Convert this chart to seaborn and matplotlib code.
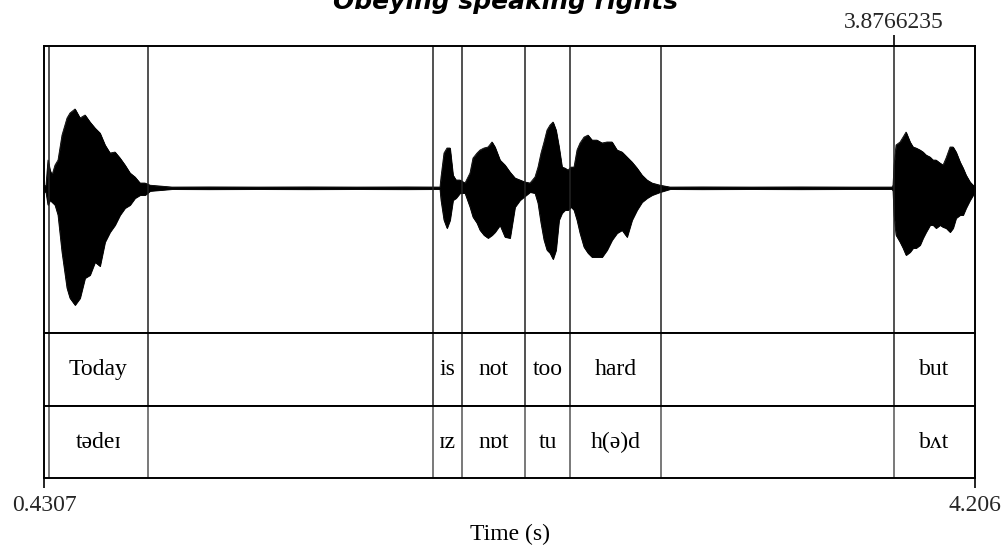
import matplotlib
matplotlib.use("Agg")
import matplotlib.pyplot as plt
import seaborn as sns
import pandas as pd

sns.set_theme(style="white")
plt.rcParams["font.family"] = ["Liberation Serif", "DejaVu Serif"]

# ---------------- data ----------------
t_start, t_end = 0.4307, 4.206
marked_time = 3.8766235
title_text = "Obeying speaking rights"

# waveform envelope (time in s, amplitude normalised)
wave_time = [0.4307, 0.4388, 0.4469, 0.4550, 0.4631, 0.4753, 0.4875, 0.5037, 0.5240,
             0.5361, 0.5564, 0.5767, 0.5970, 0.6172, 0.6375, 0.6578, 0.6781, 0.6983,
             0.7186, 0.7389, 0.7592, 0.7794, 0.7997, 0.8200, 0.8403, 0.8605,
             0.95, 1.10, 1.30, 1.50, 1.70, 1.90, 2.0365,
             2.0406, 2.0527, 2.0649, 2.0771, 2.0892, 2.1014, 2.1176, 2.1379, 2.1582,
             2.1703, 2.1866, 2.1987, 2.2149, 2.2312, 2.2474, 2.2595, 2.2798, 2.3001,
             2.3204, 2.3406, 2.3609, 2.3812, 2.4015, 2.4217, 2.4339, 2.4461, 2.4583,
             2.4704, 2.4826, 2.4948, 2.5069, 2.5191, 2.5313, 2.5434, 2.5556, 2.5678,
             2.5799, 2.5921, 2.6043, 2.6205, 2.6367, 2.6530, 2.6732, 2.6935, 2.7138,
             2.7341, 2.7543, 2.7746, 2.7949, 2.8152, 2.8354, 2.8557, 2.8760, 2.8963,
             2.9287, 2.9693, 3.10, 3.30, 3.50, 3.70, 3.8696,
             3.8736, 3.8777, 3.8858, 3.9020, 3.9142, 3.9263, 3.9426, 3.9548, 3.9669,
             3.9831, 3.9953, 4.0075, 4.0237, 4.0359, 4.0480, 4.0643, 4.0764, 4.0886,
             4.1048, 4.1170, 4.1292, 4.1454, 4.1576, 4.1697, 4.1859, 4.1981, 4.2060]
wave_upper = [0.014, 0.020, 0.195, 0.125, 0.090, 0.160, 0.195, 0.369, 0.488,
              0.523, 0.551, 0.488, 0.509, 0.460, 0.418, 0.383, 0.300, 0.244,
              0.251, 0.209, 0.160, 0.105, 0.077, 0.035, 0.035, 0.020,
              0.007, 0.008, 0.007, 0.008, 0.007, 0.008, 0.007,
              0.077, 0.244, 0.279, 0.279, 0.090, 0.056, 0.056, 0.035, 0.105,
              0.209, 0.244, 0.265, 0.279, 0.286, 0.321, 0.286, 0.195, 0.160,
              0.111, 0.070, 0.056, 0.042, 0.035, 0.077, 0.146, 0.244, 0.321,
              0.404, 0.439, 0.460, 0.404, 0.286, 0.146, 0.139, 0.125, 0.146,
              0.146, 0.265, 0.314, 0.355, 0.369, 0.334, 0.334, 0.314, 0.321,
              0.321, 0.265, 0.251, 0.216, 0.181, 0.139, 0.090, 0.056, 0.035,
              0.020, 0.007, 0.008, 0.007, 0.008, 0.007, 0.007,
              0.020, 0.160, 0.300, 0.321, 0.355, 0.390, 0.321, 0.286, 0.279,
              0.265, 0.251, 0.230, 0.216, 0.195, 0.195, 0.174, 0.160, 0.209,
              0.286, 0.286, 0.251, 0.181, 0.139, 0.090, 0.042, 0.020, 0.010]
wave_lower = [-0.020, -0.030, -0.118, -0.084, -0.098, -0.118, -0.188, -0.446, -0.697,
              -0.767, -0.815, -0.767, -0.627, -0.606, -0.516, -0.544, -0.376, -0.307,
              -0.258, -0.188, -0.139, -0.118, -0.070, -0.049, -0.049, -0.020,
              -0.007, -0.008, -0.007, -0.008, -0.007, -0.008, -0.007,
              -0.084, -0.223, -0.279, -0.223, -0.084, -0.070, -0.035, -0.035, -0.132,
              -0.202, -0.244, -0.293, -0.328, -0.348, -0.328, -0.307, -0.258, -0.341,
              -0.348, -0.132, -0.084, -0.056, -0.028, -0.035, -0.105, -0.244, -0.362,
              -0.432, -0.453, -0.495, -0.432, -0.223, -0.174, -0.153, -0.153, -0.132,
              -0.153, -0.223, -0.314, -0.411, -0.453, -0.481, -0.481, -0.481, -0.432,
              -0.362, -0.314, -0.293, -0.341, -0.223, -0.153, -0.098, -0.070, -0.049,
              -0.028, -0.007, -0.008, -0.007, -0.008, -0.007, -0.007,
              -0.020, -0.188, -0.328, -0.376, -0.418, -0.467, -0.446, -0.418, -0.418,
              -0.397, -0.348, -0.307, -0.258, -0.258, -0.279, -0.258, -0.272, -0.279,
              -0.307, -0.279, -0.209, -0.188, -0.188, -0.139, -0.084, -0.049, -0.020]

# TextGrid interval boundaries and labels
bounds = [0.451, 0.8524, 2.008, 2.1257, 2.3812, 2.5636, 2.9327, 3.8766235]
words = ["Today", "", "is", "not", "too", "hard", "", "but"]
phones = ["tədeɪ", "", "ɪz", "nɒt", "tu", "h(ə)d", "", "bʌt"]

# ---------------- figure ----------------
W, H = 1006, 548
fig = plt.figure(figsize=(W / 100, H / 100), dpi=100)
fig.patch.set_facecolor("white")


def rect(x0, y0, x1, y1):
    return [x0 / W, 1 - y1 / H, (x1 - x0) / W, (y1 - y0) / H]


ax_w = fig.add_axes(rect(44, 46, 975, 333))
ax_t1 = fig.add_axes(rect(44, 333, 975, 406))
ax_t2 = fig.add_axes(rect(44, 406, 975, 478))

FS = 17
for ax in (ax_w, ax_t1, ax_t2):
    ax.set_facecolor("white")
    ax.set_xlim(t_start, t_end)
    for s in ax.spines.values():
        s.set_color("black")
        s.set_linewidth(1.4)
    ax.set_yticks([])
    ax.set_xticks([])
    ax.grid(False)

# waveform
wave = pd.DataFrame({"time": wave_time, "upper": wave_upper, "lower": wave_lower})
ax_w.set_ylim(-1.01, 0.99)
ax_w.fill_between(wave["time"], wave["lower"], wave["upper"], color="black", lw=0.6)
sns.lineplot(data=wave, x="time", y="upper", ax=ax_w, color="black", lw=0.6)
sns.lineplot(data=wave, x="time", y="lower", ax=ax_w, color="black", lw=0.6)
ax_w.set_xlabel("")
ax_w.set_ylabel("")

for b in bounds:
    ax_w.axvline(b, color="#222222", lw=1.1)
    ax_t1.axvline(b, color="#222222", lw=1.1)
    ax_t2.axvline(b, color="#555555", lw=1.1)

edges = bounds + [t_end]
for i in range(len(bounds)):
    mid = (edges[i] + edges[i + 1]) / 2
    ax_t1.text(mid, 0.5, words[i], ha="center", va="center", fontsize=FS,
               color="black")
    ax_t2.text(mid, 0.5, phones[i], ha="center", va="center", fontsize=FS,
               color="black")
ax_t1.set_ylim(0, 1)
ax_t2.set_ylim(0, 1)

# top marker tick
ax_w.xaxis.set_ticks_position("top")
ax_w.set_xticks([marked_time])
ax_w.set_xticklabels(["3.8766235"], fontsize=FS)
ax_w.tick_params(axis="x", direction="out", length=8, width=1.2, color="black",
                 pad=1, top=True, bottom=False, labeltop=True, labelbottom=False)

# bottom axis
ax_t2.set_xticks([t_start, t_end])
ax_t2.set_xticklabels(["0.4307", "4.206"], fontsize=FS)
ax_t2.tick_params(axis="x", direction="out", length=7, width=1.2, color="black",
                  pad=5, bottom=True)
ax_t2.set_xlabel("Time (s)", fontsize=FS, labelpad=6, color="black")

# title (partly outside the canvas, as in the reference)
fig.text(0.503, 1 - 9 / H, title_text, ha="center", va="baseline",
         fontsize=18, fontweight="bold", fontstyle="italic",
         family=["DejaVu Sans"], color="black")

fig.savefig("out.png", dpi=100, facecolor="white")
